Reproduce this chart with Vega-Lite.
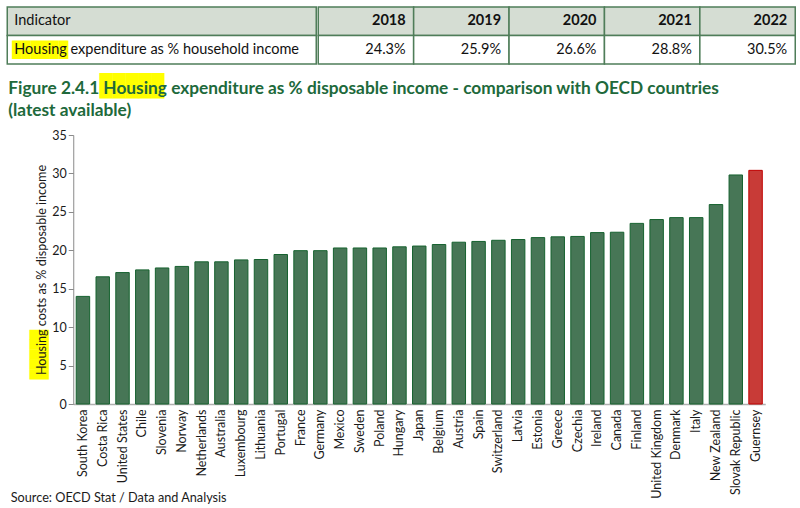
{
  "$schema": "https://vega.github.io/schema/vega-lite/v6.json",
  "background": "white",
  "padding": {"left": 6.25, "top": 6, "right": 4, "bottom": 0},
  "config": {
    "view": {"stroke": null},
    "font": "Lato",
    "text": {"font": "Lato", "color": "#111111"}
  },
  "datasets": {
    "indicator": [
      {"col": "Indicator", "row": "header", "label": "Indicator"},
      {"col": "Indicator", "row": "body", "label": "Housing expenditure as % household income"}
    ],
    "years": [
      {"year": 2018, "share": 0.243},
      {"year": 2019, "share": 0.259},
      {"year": 2020, "share": 0.266},
      {"year": 2021, "share": 0.288},
      {"year": 2022, "share": 0.305}
    ],
    "oecd": [
      {"country": "South Korea", "value": 14.0, "group": "OECD"},
      {"country": "Costa Rica", "value": 16.55, "group": "OECD"},
      {"country": "United States", "value": 17.1, "group": "OECD"},
      {"country": "Chile", "value": 17.45, "group": "OECD"},
      {"country": "Slovenia", "value": 17.7, "group": "OECD"},
      {"country": "Norway", "value": 17.9, "group": "OECD"},
      {"country": "Netherlands", "value": 18.5, "group": "OECD"},
      {"country": "Australia", "value": 18.5, "group": "OECD"},
      {"country": "Luxembourg", "value": 18.75, "group": "OECD"},
      {"country": "Lithuania", "value": 18.8, "group": "OECD"},
      {"country": "Portugal", "value": 19.45, "group": "OECD"},
      {"country": "France", "value": 19.95, "group": "OECD"},
      {"country": "Germany", "value": 19.95, "group": "OECD"},
      {"country": "Mexico", "value": 20.3, "group": "OECD"},
      {"country": "Sweden", "value": 20.3, "group": "OECD"},
      {"country": "Poland", "value": 20.3, "group": "OECD"},
      {"country": "Hungary", "value": 20.45, "group": "OECD"},
      {"country": "Japan", "value": 20.55, "group": "OECD"},
      {"country": "Belgium", "value": 20.75, "group": "OECD"},
      {"country": "Austria", "value": 21.05, "group": "OECD"},
      {"country": "Spain", "value": 21.15, "group": "OECD"},
      {"country": "Switzerland", "value": 21.3, "group": "OECD"},
      {"country": "Latvia", "value": 21.4, "group": "OECD"},
      {"country": "Estonia", "value": 21.65, "group": "OECD"},
      {"country": "Greece", "value": 21.75, "group": "OECD"},
      {"country": "Czechia", "value": 21.8, "group": "OECD"},
      {"country": "Ireland", "value": 22.3, "group": "OECD"},
      {"country": "Canada", "value": 22.35, "group": "OECD"},
      {"country": "Finland", "value": 23.5, "group": "OECD"},
      {"country": "United Kingdom", "value": 24.0, "group": "OECD"},
      {"country": "Denmark", "value": 24.25, "group": "OECD"},
      {"country": "Italy", "value": 24.25, "group": "OECD"},
      {"country": "New Zealand", "value": 25.95, "group": "OECD"},
      {"country": "Slovak Republic", "value": 29.8, "group": "OECD"},
      {"country": "Guernsey", "value": 30.4, "group": "Guernsey"}
    ]
  },
  "spacing": 10,
  "vconcat": [
    {
      "spacing": 0,
      "hconcat": [
        {
          "width": 243,
          "height": 57,
          "data": {"name": "indicator"},
          "encoding": {
            "x": {"field": "col", "type": "nominal", "scale": {"paddingInner": 0, "paddingOuter": 0, "range": [-66, 243]}, "axis": null},
            "y": {"field": "row", "type": "nominal", "sort": ["header", "body"], "scale": {"domain": ["header", "body"], "paddingInner": 0, "paddingOuter": 0}, "axis": null}
          },
          "layer": [
            {
              "mark": {"type": "rect", "stroke": "#4f7d59", "strokeWidth": 1.5},
              "encoding": {
                "fill": {"condition": {"test": "datum.row === 'header'", "value": "#d5ddd3"}, "value": "#ffffff"}
              }
            },
            {
              "transform": [{"filter": "datum.row === 'body'"}],
              "mark": {"type": "text", "align": "left", "dx": 5, "font": "DejaVu Sans Mono", "fontSize": 15.5, "fill": "#ffff00", "baseline": "middle"},
              "encoding": {
                "x": {"field": "col", "type": "nominal", "bandPosition": 0},
                "text": {"value": "██████"}
              }
            },
            {
              "mark": {"type": "text", "align": "left", "dx": 7, "fontSize": 14.5, "baseline": "middle"},
              "encoding": {
                "x": {"field": "col", "type": "nominal", "bandPosition": 0},
                "text": {"field": "label"},
                "fontWeight": {"condition": {"test": "datum.row === 'header'", "value": "bold"}, "value": "normal"}
              }
            }
          ]
        },
        {
          "width": 477,
          "height": 57,
          "data": {"name": "years"},
          "encoding": {
            "x": {"field": "year", "type": "ordinal", "scale": {"paddingInner": 0, "paddingOuter": 0}, "axis": null}
          },
          "layer": [
            {
              "mark": {"type": "rect", "stroke": "#4f7d59", "strokeWidth": 1.5, "fill": "#d5ddd3"},
              "encoding": {"y": {"datum": "header", "type": "nominal", "scale": {"domain": ["header", "body"], "paddingInner": 0, "paddingOuter": 0}, "axis": null}}
            },
            {
              "mark": {"type": "rect", "stroke": "#4f7d59", "strokeWidth": 1.5, "fill": "#ffffff"},
              "encoding": {"y": {"datum": "body", "type": "nominal"}}
            },
            {
              "mark": {"type": "text", "align": "right", "dx": -8, "fontSize": 14.5, "fontWeight": "bold", "baseline": "middle"},
              "encoding": {
                "x": {"field": "year", "type": "ordinal", "bandPosition": 1},
                "y": {"datum": "header", "type": "nominal"},
                "text": {"field": "year", "type": "ordinal"}
              }
            },
            {
              "mark": {"type": "text", "align": "right", "dx": -8, "fontSize": 14.5, "baseline": "middle"},
              "encoding": {
                "x": {"field": "year", "type": "ordinal", "bandPosition": 1},
                "y": {"datum": "body", "type": "nominal"},
                "text": {"field": "share", "type": "quantitative", "format": ".1%"}
              }
            }
          ]
        }
      ]
    },
    {
      "width": 692,
      "height": 269,
      "data": {"name": "oecd"},
      "title": {
        "text": ["Figure 2.4.1 Housing expenditure as % disposable income - comparison with OECD countries", "(latest available)"],
        "orient": "top",
        "anchor": "start",
        "frame": "bounds",
        "dx": -2,
        "offset": -44.5,
        "font": "Lato",
        "fontSize": 17.3,
        "fontWeight": "bold",
        "color": "#20693b",
        "lineHeight": 22,
        "zindex": 1
      },
      "resolve": {"axis": {"x": "independent", "y": "independent"}},
      "layer": [
        {
          "mark": {"type": "bar", "strokeWidth": 1},
          "encoding": {
            "x": {
              "field": "country", "type": "nominal", "sort": null,
              "scale": {"paddingInner": 0.32, "paddingOuter": 0.15},
              "axis": {
                "title": "Source: OECD Stat / Data and Analysis",
                "labelAngle": -90, "labelFontSize": 12.5, "labelColor": "#1a1a1a", "labelPadding": 5, "labelLimit": 200,
                "ticks": false, "domainColor": "#b0b0b0", "domainWidth": 1.5,
                "titleAnchor": "start", "titleAlign": "left", "titleBaseline": "alphabetic",
                "titleX": -63, "titleY": 97, "titleFontSize": 12.7, "titleFontWeight": "normal", "titleColor": "#1a1a1a"
              }
            },
            "y": {
              "field": "value", "type": "quantitative",
              "scale": {"domain": [0, 35]},
              "axis": {
                "title": "Housing costs as % disposable income",
                "values": [0, 5, 10, 15, 20, 25, 30, 35],
                "grid": false, "tickSize": 5, "tickColor": "#8a8a8a", "domainColor": "#8a8a8a",
                "labelFontSize": 12.5, "labelPadding": 2, "labelColor": "#1a1a1a",
                "titleFontSize": 12.6, "titleFontWeight": "normal", "titleColor": "#1a1a1a", "titlePadding": 3.5,
                "zindex": 1
              }
            },
            "fill": {"field": "group", "type": "nominal", "scale": {"domain": ["OECD", "Guernsey"], "range": ["#477656", "#c83b37"]}, "legend": null},
            "stroke": {"field": "group", "type": "nominal", "scale": {"domain": ["OECD", "Guernsey"], "range": ["#16622f", "#c00000"]}, "legend": null}
          }
        },
        {
          "mark": {"type": "point", "opacity": 0},
          "encoding": {
            "x": {
              "field": "country", "type": "nominal", "sort": null,
              "axis": {
                "orient": "top", "labels": false, "ticks": false, "domain": false, "grid": false,
                "title": "█████", "titleFont": "DejaVu Sans Mono", "titleFontSize": 21.5, "titleFontWeight": "normal",
                "titleColor": "#ffff00", "titleX": 26, "titleY": -48.8, "titleAlign": "left", "titleBaseline": "middle", "titleAngle": 0,
                "zindex": 0
              }
            },
            "y": {
              "field": "value", "type": "quantitative",
              "axis": {
                "orient": "right", "labels": false, "ticks": false, "domain": false, "grid": false,
                "title": "█████", "titleFont": "DejaVu Sans Mono", "titleFontSize": 16.4, "titleFontWeight": "normal",
                "titleColor": "#ffff00", "titleX": -725.7, "titleY": 243.7, "titleAlign": "left", "titleBaseline": "middle", "titleAngle": 270,
                "zindex": 0
              }
            }
          }
        }
      ]
    }
  ]
}
